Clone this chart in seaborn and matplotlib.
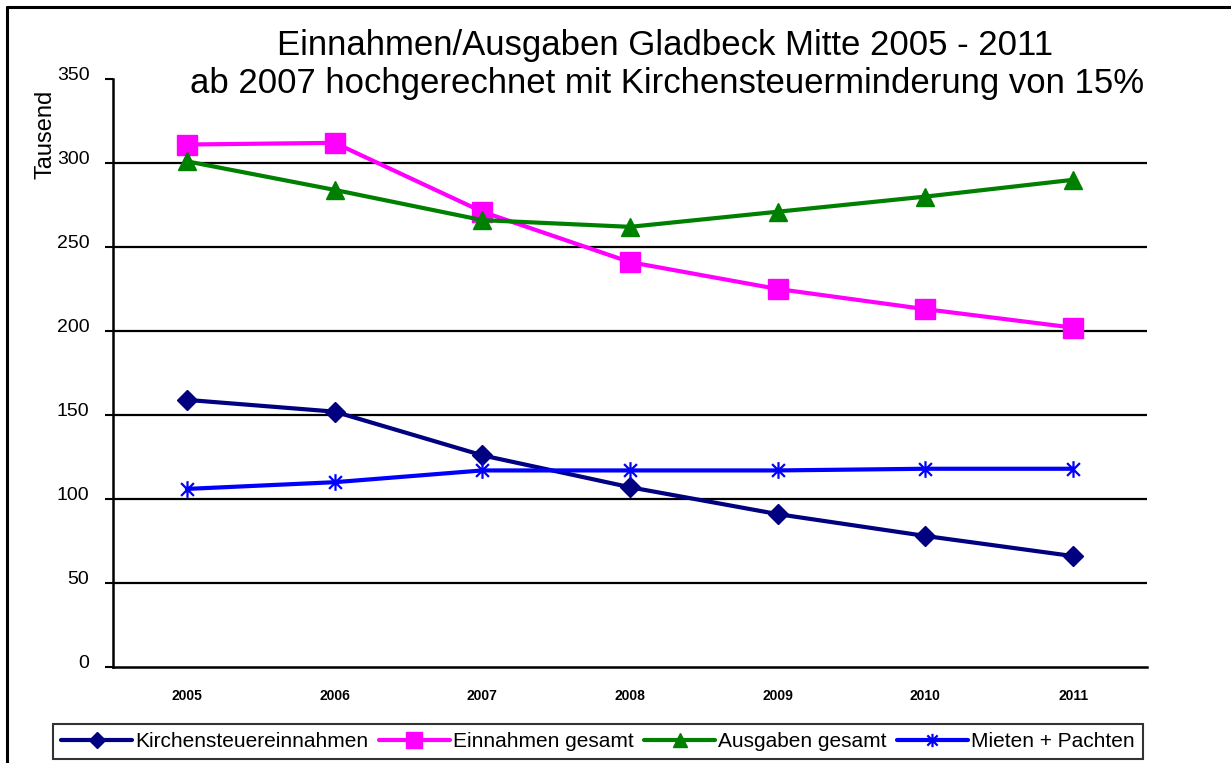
import numpy as np
import pandas as pd
import matplotlib
matplotlib.use("Agg")
import matplotlib.pyplot as plt
import seaborn as sns
from matplotlib.lines import Line2D
from matplotlib.path import Path
from matplotlib.transforms import ScaledTranslation

# data (in Tausend)
years = ["2005", "2006", "2007", "2008", "2009", "2010", "2011"]
kirchensteuer = [159, 152, 126, 107, 91, 78, 66]
einnahmen = [311, 312, 271, 241, 225, 213, 202]
ausgaben = [301, 284, 266, 262, 271, 280, 290]
mieten = [106, 110, 117, 117, 117, 118, 118]

series_names = ["Kirchensteuereinnahmen", "Einnahmen gesamt", "Ausgaben gesamt", "Mieten + Pachten"]
yticks = [0, 50, 100, 150, 200, 250, 300, 350]

sns.set_theme(style="white")
plt.rcParams["font.family"] = ["Liberation Sans", "DejaVu Sans"]
plt.rcParams["text.color"] = "black"
plt.rcParams["xtick.color"] = "black"
plt.rcParams["ytick.color"] = "black"

# asterisk marker (x plus vertical bar)
star = Path([(-1, -1), (1, 1), (-1, 1), (1, -1), (0, -1.3), (0, 1.3)],
            [Path.MOVETO, Path.LINETO, Path.MOVETO, Path.LINETO, Path.MOVETO, Path.LINETO])

styles = [
    dict(color="#000080", marker="D", markersize=10, mec="#000080"),
    dict(color="#ff00ff", marker="s", markersize=14, mec="#ff00ff"),
    dict(color="#008000", marker="^", markersize=13, mec="#008000"),
    dict(color="#0000ff", marker=star, markersize=12, mec="#0000ff", markeredgewidth=1.6),
]

fig = plt.figure(figsize=(12.31, 7.63), dpi=100)
ax = fig.add_axes([113 / 1231, 96 / 763, 1034 / 1231, 588 / 763])

x = np.arange(len(years))
for name, vals, st in zip(series_names, [kirchensteuer, einnahmen, ausgaben, mieten], styles):
    df = pd.DataFrame({"x": x, "y": vals})
    st = dict(st)
    sns.lineplot(data=df, x="x", y="y", ax=ax, linewidth=3, label=name,
                 markeredgewidth=st.pop("markeredgewidth", 1), **st)

for v in yticks[1:-1]:
    ax.axhline(v, color="black", linewidth=1.6, zorder=0)

ax.set_xlim(-0.5, 6.5)
ax.set_ylim(0, 350)
ax.set_xlabel("")
ax.set_ylabel("")

ax.set_xticks(x)
ax.set_xticklabels(years, fontsize=10, fontweight="bold")
ax.set_xticks(np.arange(-0.5, 6.6, 1), minor=True)
ax.tick_params(axis="x", which="major", length=0, pad=16)
ax.tick_params(axis="x", which="minor", length=6, width=1.5, direction="out", color="black")
ax.set_yticks(yticks)
ax.set_yticklabels([str(v) for v in yticks], fontsize=14)
ax.tick_params(axis="y", length=6, width=1.5, direction="out", color="black", pad=11, left=True)
off = ScaledTranslation(0, 6 / 100, fig.dpi_scale_trans)
for lab in ax.get_yticklabels():
    lab.set_transform(lab.get_transform() + off)

for s in ["top", "right"]:
    ax.spines[s].set_visible(False)
for s in ["left", "bottom"]:
    ax.spines[s].set_color("black")
    ax.spines[s].set_linewidth(1.8)

ax.get_legend().remove()
handles, labels = ax.get_legend_handles_labels()
leg = fig.legend(handles, labels, loc="center", bbox_to_anchor=(598 / 1231, 1 - 741.5 / 763),
                 ncol=4, fontsize=15, frameon=True, fancybox=False, edgecolor="black",
                 handlelength=3.4, handletextpad=0.15, columnspacing=0.5, borderpad=0.4,
                 borderaxespad=0, markerscale=0.8)
leg.get_frame().set_linewidth(1.5)

fig.text(665 / 1231, 1 - 45 / 763, "Einnahmen/Ausgaben Gladbeck Mitte 2005 - 2011",
         ha="center", va="center", fontsize=25)
fig.text(667 / 1231, 1 - 83 / 763, "ab 2007 hochgerechnet mit Kirchensteuerminderung von 15%",
         ha="center", va="center", fontsize=25)
fig.text(45 / 1231, 1 - 134 / 763, "Tausend", rotation=90, ha="center", va="center", fontsize=17)

# outer frame (top and left edges visible)
fig.add_artist(Line2D([7 / 1231, 7 / 1231], [0, 1 - 7 / 763], color="black", linewidth=2.2))
fig.add_artist(Line2D([7 / 1231, 1], [1 - 7 / 763, 1 - 7 / 763], color="black", linewidth=2.2))

fig.savefig("out.png", dpi=100)
